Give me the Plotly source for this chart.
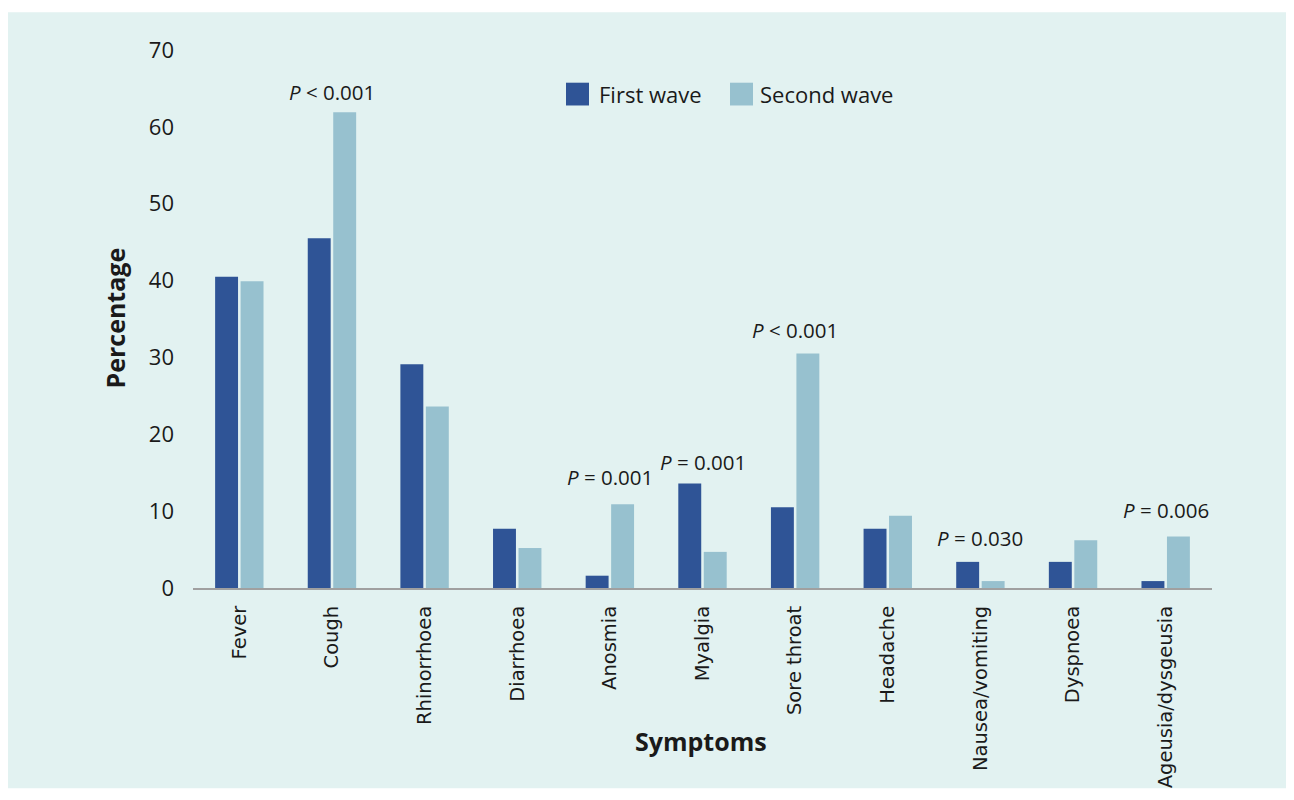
import plotly.graph_objects as go

symptoms = ["Fever", "Cough", "Rhinorrhoea", "Diarrhoea", "Anosmia", "Myalgia",
            "Sore throat", "Headache", "Nausea/vomiting", "Dyspnoea", "Ageusia/dysgeusia"]
first_wave = [40.5, 45.5, 29.1, 7.7, 1.6, 13.6, 10.5, 7.7, 3.4, 3.4, 0.9]
second_wave = [39.9, 61.9, 23.6, 5.2, 10.9, 4.7, 30.5, 9.4, 0.9, 6.2, 6.7]
p_labels = {"Cough": "<i>P</i> &lt; 0.001", "Anosmia": "<i>P</i> = 0.001",
            "Myalgia": "<i>P</i> = 0.001", "Sore throat": "<i>P</i> &lt; 0.001",
            "Nausea/vomiting": "<i>P</i> = 0.030", "Ageusia/dysgeusia": "<i>P</i> = 0.006"}
series_names = ["First wave", "Second wave"]
y_ticks = [0, 10, 20, 30, 40, 50, 60, 70]

# label offsets above the tallest bar (pixels) -- styling only
p_shift = {"Cough": 4, "Anosmia": 11, "Myalgia": 5, "Sore throat": 8,
           "Nausea/vomiting": 8, "Ageusia/dysgeusia": 11}

C1 = "#2f5496"
C2 = "#97c1cf"
BG = "#e2f2f1"
TXT = "#1a1a1a"
FONT = "Open Sans"

# page body margin offset of 8px
OFF = 8
W, H = 1294 - OFF, 800 - OFF
L, R, T, B = 185, 82, 42, 207
pw, ph = W - L - R, H - T - B


def px2x(p):
    return (p - OFF - L) / pw


def px2y(p):
    return (H - B - (p - OFF)) / ph


fig = go.Figure()
fig.add_trace(go.Bar(name=series_names[0], x=symptoms, y=first_wave, marker_color=C1, marker_line_width=0))
fig.add_trace(go.Bar(name=series_names[1], x=symptoms, y=second_wave, marker_color=C2, marker_line_width=0))

# panel background
fig.add_shape(type="rect", xref="paper", yref="paper",
              x0=px2x(8), x1=px2x(1290), y0=px2y(795), y1=px2y(12),
              fillcolor=BG, line_width=0, layer="below")

# P-value labels
for i, s in enumerate(symptoms):
    if s in p_labels:
        top = max(first_wave[i], second_wave[i])
        fig.add_annotation(x=s, y=top, text=p_labels[s], showarrow=False,
                           yanchor="bottom", yshift=p_shift[s],
                           font=dict(family=FONT, size=20.5, color=TXT))

# custom legend (large square swatches)
for name, col, sx, tx in [(series_names[0], C1, 566, 597), (series_names[1], C2, 730, 758)]:
    fig.add_shape(type="rect", xref="paper", yref="paper",
                  x0=px2x(sx), x1=px2x(sx + 23), y0=px2y(106), y1=px2y(83),
                  fillcolor=col, line_width=0)
    fig.add_annotation(xref="paper", yref="paper", x=px2x(tx), y=px2y(94.5),
                       text=name, showarrow=False, xanchor="left", yanchor="middle",
                       font=dict(family=FONT, size=22, color=TXT))

# axis titles
fig.add_annotation(xref="paper", yref="paper", x=px2x(701), y=px2y(747),
                   text="<b>Symptoms</b>", showarrow=False, xanchor="center", yanchor="middle",
                   font=dict(family=FONT, size=25, color=TXT))
fig.add_annotation(xref="paper", yref="paper", x=px2x(115), y=px2y(321),
                   text="<b>Percentage</b>", showarrow=False, textangle=-90,
                   xanchor="center", yanchor="middle",
                   font=dict(family=FONT, size=25, color=TXT))

fig.update_layout(
    width=W, height=H,
    margin=dict(l=L, r=R, t=T, b=B),
    paper_bgcolor="white", plot_bgcolor="rgba(0,0,0,0)",
    barmode="group", bargap=0.45, bargroupgap=0.1,
    showlegend=False,
    xaxis=dict(showline=True, linecolor="#a0a0a0", linewidth=2, ticks="",
               tickangle=-90, ticklabelstandoff=8,
               tickfont=dict(family="DejaVu Sans", size=19.5, color=TXT),
               showgrid=False),
    yaxis=dict(range=[0, 70], tickvals=y_ticks, showgrid=False, showline=False, zeroline=False,
               ticks="", ticklabelstandoff=18,
               tickfont=dict(family=FONT, size=22, color=TXT)),
)

fig.write_html("out.html")
